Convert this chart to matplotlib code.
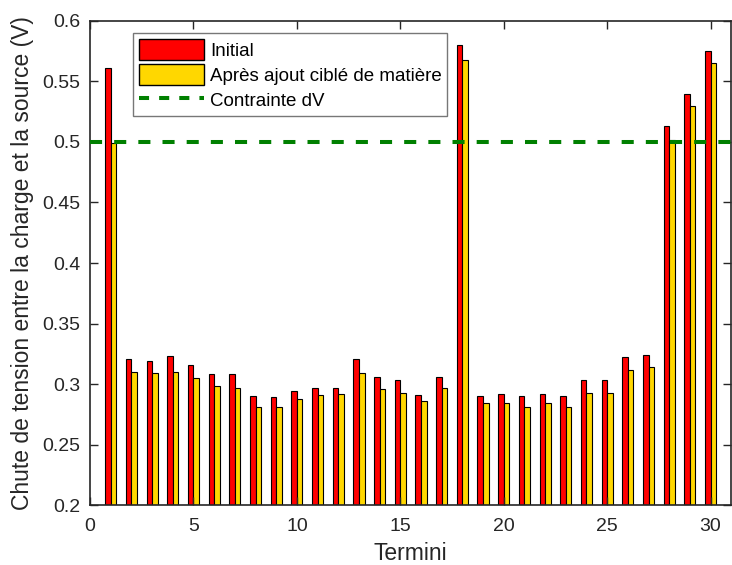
import numpy as np
import matplotlib.pyplot as plt
from matplotlib.patches import Patch
from matplotlib.lines import Line2D

plt.rcParams['font.family'] = ['Liberation Sans', 'DejaVu Sans']

termini = np.arange(1, 31)
initial = [0.561, 0.321, 0.319, 0.323, 0.316, 0.308, 0.308, 0.290, 0.289, 0.294,
           0.297, 0.297, 0.321, 0.306, 0.303, 0.291, 0.306, 0.580, 0.290, 0.292,
           0.290, 0.292, 0.290, 0.303, 0.303, 0.322, 0.324, 0.513, 0.540, 0.575]
apres = [0.499, 0.310, 0.309, 0.310, 0.305, 0.298, 0.297, 0.281, 0.281, 0.288,
         0.291, 0.292, 0.309, 0.296, 0.293, 0.286, 0.297, 0.568, 0.284, 0.284,
         0.281, 0.284, 0.281, 0.293, 0.293, 0.312, 0.314, 0.502, 0.530, 0.565]
contrainte = 0.5

fig = plt.figure(figsize=(7.32, 5.65), dpi=100)
ax = fig.add_axes([0.123, 0.106, 0.876, 0.857])

w = 0.27
ax.bar(termini - w / 2, initial, w, color='#ff0000', edgecolor='black', linewidth=0.8)
ax.bar(termini + w / 2, apres, w, color='#ffd700', edgecolor='black', linewidth=0.8)
ax.axhline(contrainte, color='#008000', linewidth=2.9, linestyle=(0, (3, 3)), zorder=5)

ax.set_xlim(0, 31)
ax.set_ylim(0.2, 0.6)
ax.set_xticks([0, 5, 10, 15, 20, 25, 30])
ax.set_yticks(np.arange(0.2, 0.601, 0.05))
ax.set_yticklabels(['0.2', '0.25', '0.3', '0.35', '0.4', '0.45', '0.5', '0.55', '0.6'])
ax.tick_params(direction='in', top=True, right=True, length=6, width=1,
               labelsize=14, colors='#262626')
ax.tick_params(axis='x', pad=9)
ax.tick_params(axis='y', pad=7)
for s in ax.spines.values():
    s.set_linewidth(1.2)
    s.set_color('#262626')

ax.set_xlabel('Termini', fontsize=16.5, color='#262626', labelpad=5)
ax.set_ylabel('Chute de tension entre la charge et la source (V)', fontsize=16.5,
              color='#262626', labelpad=6)

handles = [Patch(facecolor='#ff0000', edgecolor='black'),
           Patch(facecolor='#ffd700', edgecolor='black'),
           Line2D([0], [0], color='#008000', linewidth=2.9, linestyle=(0, (2.5, 2.5)))]
labels = ['Initial', 'Après ajout ciblé de matière', 'Contrainte dV']
leg = ax.legend(handles, labels, loc='upper left', bbox_to_anchor=(0.067, 0.974),
                fontsize=13.5, fancybox=False, edgecolor='#777777', framealpha=1,
                handlelength=3.5, handleheight=1.3, handletextpad=0.3,
                borderpad=0.3, labelspacing=0.25, borderaxespad=0)
leg.get_frame().set_linewidth(1.0)

fig.savefig('out.png', dpi=100)
